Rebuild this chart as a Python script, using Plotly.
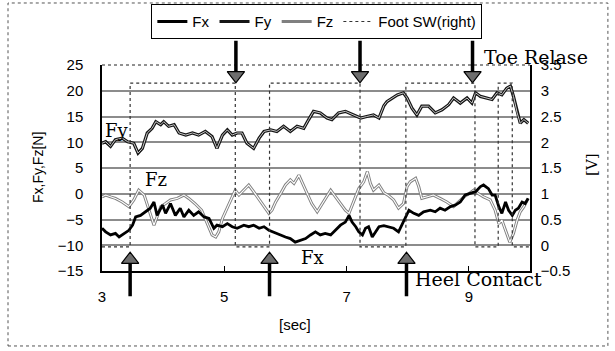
import plotly.graph_objects as go

# ---------------- data ----------------
fx_t = [3.00,3.06,3.14,3.22,3.28,3.36,3.44,3.50,3.55,3.63,3.71,3.79,3.85,3.90,3.99,4.04,4.12,4.20,4.28,4.34,
        4.42,4.50,4.58,4.67,4.75,4.83,4.88,4.97,5.05,5.13,5.21,5.32,5.40,5.48,5.57,5.65,5.73,5.84,5.92,6.00,
        6.08,6.16,6.25,6.33,6.41,6.49,6.57,6.65,6.74,6.82,6.90,6.98,7.04,7.09,7.15,7.20,7.26,7.31,7.36,7.42,
        7.47,7.53,7.61,7.69,7.77,7.85,7.91,7.96,8.02,8.10,8.18,8.26,8.37,8.45,8.53,8.61,8.70,8.78,8.86,8.94,
        9.02,9.11,9.19,9.24,9.32,9.38,9.43,9.49,9.54,9.60,9.65,9.71,9.76,9.81,9.87,9.92,9.97]
fx = [-6.7,-7.4,-8.0,-7.7,-8.4,-7.7,-7.1,-6.1,-4.5,-4.2,-3.5,-2.8,-1.6,-4.2,-2.2,-3.8,-1.9,-4.2,-2.8,-4.5,
      -3.2,-4.2,-3.5,-4.5,-4.8,-6.7,-6.1,-6.4,-5.8,-6.4,-6.7,-6.1,-6.4,-6.1,-6.7,-6.4,-7.1,-7.7,-8.0,-8.4,
      -8.7,-9.4,-9.0,-8.7,-8.0,-7.4,-8.0,-7.7,-8.0,-7.1,-6.1,-5.5,-4.2,-5.5,-6.4,-7.4,-8.0,-6.7,-6.4,-8.4,
      -7.4,-6.4,-6.2,-6.4,-6.7,-7.4,-5.8,-4.5,-3.2,-3.8,-4.2,-3.5,-3.2,-3.5,-2.8,-3.2,-2.5,-2.2,-1.6,-0.25,
      0.0,0.4,1.4,1.7,1.0,-0.25,-0.25,-2.5,-3.8,-1.6,-3.2,-4.2,-3.2,-2.8,-1.6,-1.9,-0.9]

fy_t = [3.00,3.06,3.14,3.22,3.33,3.42,3.52,3.59,3.66,3.74,3.82,3.88,3.96,4.01,4.09,4.18,4.26,4.37,4.48,4.58,
        4.69,4.80,4.88,4.97,5.05,5.13,5.21,5.29,5.37,5.48,5.57,5.65,5.76,5.86,5.97,6.08,6.19,6.30,6.38,6.46,
        6.57,6.68,6.76,6.87,6.98,7.12,7.23,7.33,7.44,7.53,7.61,7.66,7.72,7.83,7.93,7.99,8.07,8.15,8.23,8.34,
        8.45,8.56,8.67,8.75,8.86,8.97,9.05,9.11,9.19,9.30,9.38,9.46,9.54,9.62,9.68,9.73,9.79,9.84,9.90,9.97]
fy = [9.8,10.1,9.2,10.5,10.8,10.1,9.8,7.9,8.8,11.8,12.7,14.0,13.4,14.0,13.1,13.4,11.8,11.4,11.8,11.4,
      12.1,11.1,8.8,11.4,12.4,11.4,11.8,11.8,9.8,8.8,10.8,12.1,12.4,12.1,13.1,12.1,13.1,12.7,14.4,16.0,
      15.7,14.7,14.4,15.7,16.0,15.3,14.7,15.0,15.3,14.7,17.1,17.9,18.3,19.2,19.6,18.6,16.6,15.3,17.0,17.0,
      15.7,16.3,17.3,18.6,17.6,18.6,17.6,19.6,18.9,18.6,18.3,19.6,19.2,20.5,20.9,18.9,15.7,13.7,14.4,13.7]

fz_t = [3.00,3.06,3.14,3.22,3.33,3.44,3.52,3.60,3.69,3.77,3.85,3.90,3.96,4.04,4.12,4.23,4.34,4.42,4.52,4.63,
        4.72,4.80,4.86,4.91,4.97,5.02,5.10,5.18,5.24,5.32,5.40,5.48,5.57,5.65,5.73,5.78,5.84,5.92,6.00,6.08,
        6.14,6.22,6.27,6.35,6.43,6.52,6.60,6.68,6.74,6.82,6.90,6.98,7.04,7.12,7.20,7.28,7.34,7.39,7.44,7.53,
        7.61,7.69,7.77,7.85,7.93,7.99,8.04,8.13,8.18,8.23,8.32,8.42,8.53,8.64,8.75,8.83,8.92,9.00,9.08,9.16,
        9.24,9.35,9.43,9.49,9.54,9.60,9.67,9.73,9.79,9.84,9.90,9.97]
fz = [-0.6,-0.25,-0.6,-0.9,-1.6,-2.5,-1.2,0.7,-0.25,-3.2,-6.1,-4.5,-2.5,-1.9,-1.2,-0.9,-0.25,-0.9,-1.9,-3.2,
      -5.8,-8.0,-8.4,-7.4,-4.8,-3.5,-1.6,0.7,-0.25,0.7,1.7,0.4,-1.2,-2.5,-3.8,-3.2,-1.6,0.0,1.7,2.7,
      2.0,3.6,2.3,0.4,-1.9,-3.5,-1.9,-0.25,0.7,-0.6,-1.9,-3.2,-3.8,-1.2,1.0,2.3,4.3,2.0,0.7,1.7,
      0.2,-0.4,-1.2,-2.8,-1.9,1.4,2.3,3.0,1.4,-0.9,-0.6,-0.25,-0.9,-1.6,-2.5,-1.6,-0.6,0.0,0.7,0.0,
      -0.6,-1.2,-3.2,-5.8,-5.1,-7.1,-9.4,-7.7,-5.1,-3.5,-2.5,-0.9]

# foot switch (right foot) [V], step signal
sw_t = [3.00, 3.46, 5.18, 5.74, 7.22, 7.97, 9.10, 9.48, 9.71, 10.0]
sw_v = [-0.03, 3.15, -0.03, 3.15, -0.03, 3.15, -0.03, 3.15, -0.03, -0.03]

heel_contact_t = [3.46, 5.74, 7.98]
toe_release_t = [5.19, 7.22, 9.06]

x_ticks = [3, 5, 7, 9]

SANS = "Liberation Sans"
SERIF = "DejaVu Serif"

fig = go.Figure()

fig.add_trace(go.Scatter(x=sw_t, y=sw_v, yaxis="y2", mode="lines", name="Foot SW(right)",
                         line=dict(color="#333", width=1.2, dash="dot", shape="hv"),
                         legendrank=4, hoverinfo="skip"))
fig.add_trace(go.Scatter(x=fy_t, y=fy, mode="lines", name="Fy",
                         line=dict(color="#151515", width=3.2), legendrank=2))
fig.add_trace(go.Scatter(x=fy_t, y=fy, mode="lines", showlegend=False, hoverinfo="skip",
                         line=dict(color="#c8c8c8", width=1.0)))
fig.add_trace(go.Scatter(x=fz_t, y=fz, mode="lines", name="Fz",
                         line=dict(color="#808080", width=3.0), legendrank=3))
fig.add_trace(go.Scatter(x=fz_t, y=fz, mode="lines", showlegend=False, hoverinfo="skip",
                         line=dict(color="#ffffff", width=1.1)))
fig.add_trace(go.Scatter(x=fx_t, y=fx, mode="lines", name="Fx",
                         line=dict(color="#000000", width=2.8), legendrank=1))

# arrow heads
fig.add_trace(go.Scatter(x=toe_release_t, y=[23.0] * len(toe_release_t), mode="markers",
                         showlegend=False, hoverinfo="skip", cliponaxis=False,
                         marker=dict(symbol="triangle-down", size=15, color="#6e6e6e",
                                     line=dict(color="#000", width=1.2))))
fig.add_trace(go.Scatter(x=heel_contact_t, y=[-12.8] * len(heel_contact_t), mode="markers",
                         showlegend=False, hoverinfo="skip", cliponaxis=False,
                         marker=dict(symbol="triangle-up", size=15, color="#6e6e6e",
                                     line=dict(color="#000", width=1.2))))

annotations = []
for t in toe_release_t:
    annotations.append(dict(x=t, y=23.8, xref="x", yref="y", text="", showarrow=True,
                            arrowhead=0, arrowwidth=3.5, arrowcolor="#000",
                            ax=0, ay=-32, standoff=0, startstandoff=0))
for t in heel_contact_t:
    annotations.append(dict(x=t, y=-13.6, xref="x", yref="y", text="", showarrow=True,
                            arrowhead=0, arrowwidth=3.5, arrowcolor="#000",
                            ax=0, ay=34, standoff=0, startstandoff=0))

serif_font = dict(family=SERIF, size=18, color="#000")
big_serif = dict(family=SERIF, size=19, color="#000")
annotations += [
    dict(x=3.245, y=12.2, xref="x", yref="y", text="Fy", showarrow=False, font=serif_font),
    dict(x=3.88, y=2.7, xref="x", yref="y", text="Fz", showarrow=False, font=serif_font),
    dict(x=6.45, y=-12.3, xref="x", yref="y", text="Fx", showarrow=False, font=serif_font),
    dict(x=9.21, y=1.039, xref="x", yref="paper", text="Toe Relase", showarrow=False,
         xanchor="left", yanchor="middle", font=big_serif),
    dict(x=8.08, y=-0.040, xref="x", yref="paper", text="Heel Contact", showarrow=False,
         xanchor="left", yanchor="middle", font=big_serif),
    # axis titles
    dict(x=-0.1495, y=0.50, xref="paper", yref="paper", text="Fx,Fy,Fz[N]", showarrow=False,
         textangle=-90, xanchor="center", yanchor="middle", font=dict(family=SANS, size=14)),
    dict(x=1.145, y=0.515, xref="paper", yref="paper", text="[V]", showarrow=False,
         textangle=-90, xanchor="center", yanchor="middle", font=dict(family=SERIF, size=15)),
    dict(x=0.451, y=-0.262, xref="paper", yref="paper", text="[sec]", showarrow=False,
         xanchor="center", yanchor="middle", font=dict(family=SANS, size=15)),
]

shapes = [
    dict(type="line", xref="paper", yref="paper", x0=0, x1=1, y0=1, y1=1,
         line=dict(color="#222", width=1, dash="dot")),
    dict(type="rect", xref="paper", yref="paper", x0=-0.2196, x1=1.182, y0=-0.364, y1=1.301,
         line=dict(color="#555", width=1, dash="dot")),
]

fig.update_layout(
    width=615, height=351,
    margin=dict(l=102, r=85, t=65, b=80, autoexpand=False),
    paper_bgcolor="white", plot_bgcolor="white",
    font=dict(family=SANS, size=15, color="#000"),
    showlegend=True,
    legend=dict(orientation="h", x=0.502, xanchor="center", y=1.295, yanchor="top",
                bordercolor="#000", borderwidth=1, bgcolor="white",
                font=dict(family=SANS, size=15), itemwidth=30, tracegroupgap=0),
    xaxis=dict(range=[3, 10], tickvals=x_ticks, ticks="inside", ticklen=5, tickcolor="#000",
               showline=True, linecolor="#000", linewidth=1.5, showgrid=False, zeroline=False,
               ticklabelstandoff=11, tickfont=dict(family=SANS, size=15)),
    yaxis=dict(range=[-15, 25], dtick=5, showgrid=True, gridcolor="#8c8c8c", gridwidth=1.5,
               showline=True, linecolor="#000", linewidth=1.5, zeroline=False, ticks="",
               ticklabelstandoff=14, tickfont=dict(family=SANS, size=15)),
    yaxis2=dict(range=[-0.5, 3.5], dtick=0.5, overlaying="y", side="right", showgrid=False,
                showline=True, linecolor="#000", linewidth=1.5, zeroline=False, ticks="",
                ticklabelstandoff=6, tickfont=dict(family=SANS, size=15)),
    annotations=annotations,
    shapes=shapes,
)

fig.write_html("out.html", config={"displayModeBar": False},
               post_script="document.body.style.margin='0';")
